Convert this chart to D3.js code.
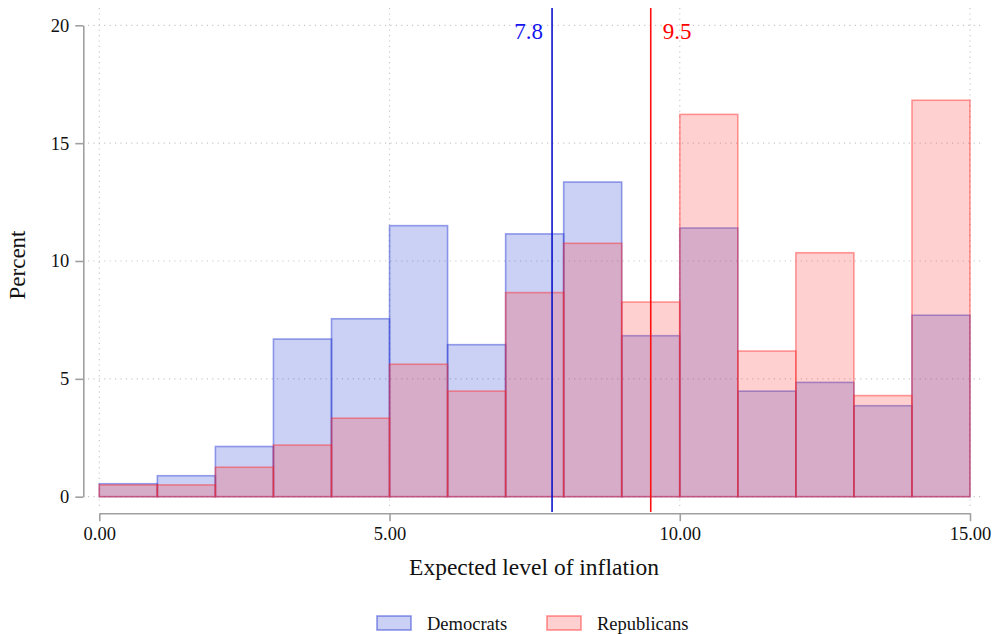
<!DOCTYPE html>
<html>
<head>
<meta charset="utf-8">
<script src="https://cdn.jsdelivr.net/npm/d3@7"></script>
<style>
  html, body { margin: 0; padding: 0; background: #fff; }
  svg { display: block; font-family: "Liberation Serif", "Times New Roman", serif; }
</style>
</head>
<body>
<svg id="chart" width="994" height="634"></svg>
<script>
// Histogram bins (width 1) of expected inflation, percent of each party
const binStarts = [0, 1, 2, 3, 4, 5, 6, 7, 8, 9, 10, 11, 12, 13, 14];
const democrats = [0.55, 0.89, 2.13, 6.69, 7.55, 11.5, 6.45, 11.15, 13.35, 6.83, 11.4, 4.48, 4.85, 3.86, 7.7];
const republicans = [0.5, 0.5, 1.25, 2.19, 3.33, 5.62, 4.48, 8.66, 10.75, 8.26, 16.22, 6.18, 10.35, 4.29, 16.82];
const medians = [
  { party: "Democrats", value: 7.8 },
  { party: "Republicans", value: 9.5 }
];
const xTicks = [0, 5, 10, 15];
const yTicks = [0, 5, 10, 15, 20];
const seriesNames = ["Democrats", "Republicans"];

const svg = d3.select("#chart");

const x = d3.scaleLinear().domain([0, 15]).range([99.3, 970]);
const y = d3.scaleLinear().domain([0, 20]).range([496.7, 25.3]);

const style = {
  Democrats: { fill: "rgba(30,50,210,0.23)", stroke: "rgba(30,50,210,0.45)", legendStroke: "rgba(30,50,210,0.5)", line: "#0a14c8", text: "#1414ee" },
  Republicans: { fill: "rgba(255,60,60,0.24)", stroke: "rgba(255,40,40,0.45)", legendStroke: "rgba(255,40,40,0.5)", line: "#ff1010", text: "#ff0000" }
};

// dotted grid
const grid = svg.append("g").attr("stroke", "#c8c8c8").attr("stroke-width", 1.2)
  .attr("stroke-dasharray", "1.2,4.2");
grid.selectAll("line.h").data(yTicks).join("line")
  .attr("x1", 88).attr("x2", 982)
  .attr("y1", d => y(d)).attr("y2", d => y(d));
grid.selectAll("line.v").data(xTicks).join("line")
  .attr("y1", 8).attr("y2", 506)
  .attr("x1", d => x(d)).attr("x2", d => x(d));

// bars
function drawBars(values, s) {
  svg.append("g").selectAll("rect").data(values).join("rect")
    .attr("x", (d, i) => x(binStarts[i]))
    .attr("width", (d, i) => x(binStarts[i] + 1) - x(binStarts[i]))
    .attr("y", d => y(d))
    .attr("height", d => y(0) - y(d))
    .attr("fill", s.fill)
    .attr("stroke", s.stroke)
    .attr("stroke-width", 1.6);
}
drawBars(democrats, style.Democrats);
drawBars(republicans, style.Republicans);

// median lines and labels
medians.forEach(m => {
  const s = style[m.party];
  const xp = x(m.value);
  svg.append("line")
    .attr("x1", xp).attr("x2", xp).attr("y1", 8).attr("y2", 512)
    .attr("stroke", s.line).attr("stroke-width", 1.6);
  const t = svg.append("text")
    .attr("y", 39)
    .attr("font-size", 23)
    .attr("fill", s.text)
    .text(m.value.toFixed(1));
  if (m.party === "Democrats") {
    t.attr("x", xp - 9).attr("text-anchor", "end");
  } else {
    t.attr("x", xp + 12).attr("text-anchor", "start");
  }
});

// axes
const axisColor = "#a0a0a0";
const xAxis = svg.append("g").attr("transform", "translate(0,513.3)")
  .call(d3.axisBottom(x).tickValues(xTicks).tickFormat(d3.format(".2f")).tickSize(8).tickSizeOuter(0));
const yAxis = svg.append("g").attr("transform", "translate(83.3,0)")
  .call(d3.axisLeft(y).tickValues(yTicks).tickSize(8).tickSizeOuter(0));
[xAxis, yAxis].forEach(a => {
  a.select(".domain").attr("stroke", axisColor).attr("stroke-width", 1.6);
  a.selectAll(".tick line").attr("stroke", axisColor).attr("stroke-width", 1.6);
  a.selectAll(".tick text").attr("fill", "#111").attr("font-size", 18.5)
    .attr("font-family", "Liberation Serif, Times New Roman, serif");
});
xAxis.selectAll(".tick text").attr("dy", null).attr("y", 26.5);
yAxis.selectAll(".tick text").attr("x", -14);

// axis titles
svg.append("text")
  .attr("x", 534).attr("y", 575)
  .attr("text-anchor", "middle").attr("font-size", 23.5).attr("fill", "#111")
  .text("Expected level of inflation");
svg.append("text")
  .attr("transform", "translate(25,265) rotate(-90)")
  .attr("text-anchor", "middle").attr("font-size", 23).attr("fill", "#111")
  .text("Percent");

// legend
const legendX = [377, 547];
const legend = svg.append("g");
seriesNames.forEach((name, i) => {
  const s = style[name];
  legend.append("rect")
    .attr("x", legendX[i]).attr("y", 616).attr("width", 34).attr("height", 14)
    .attr("fill", s.fill).attr("stroke", s.legendStroke)
    .attr("stroke-width", 1.6);
  legend.append("text")
    .attr("x", legendX[i] + 50).attr("y", 629.5)
    .attr("font-size", 18.5).attr("fill", "#111")
    .text(name);
});
</script>
</body>
</html>
